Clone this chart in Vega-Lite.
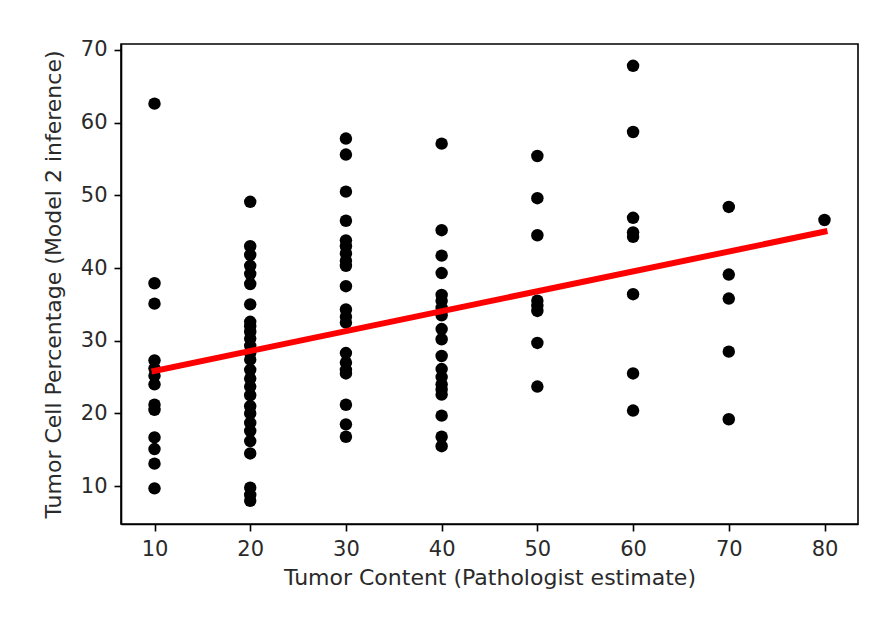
{
  "$schema": "https://vega.github.io/schema/vega-lite/v6.json",
  "autosize": "none",
  "width": 737,
  "height": 480,
  "padding": {"left": 121, "top": 44, "right": 36, "bottom": 103},
  "background": "white",
  "config": {
    "font": "DejaVu Sans",
    "view": {"stroke": "black", "strokeWidth": 1.6},
    "axis": {
      "grid": false,
      "domainColor": "black",
      "domainWidth": 1.6,
      "tickColor": "black",
      "tickWidth": 1.6,
      "tickSize": 7,
      "labelPadding": 7,
      "labelFont": "DejaVu Sans",
      "labelFontSize": 21,
      "labelColor": "#2a2a2a",
      "titleFont": "DejaVu Sans",
      "titleFontSize": 22,
      "titleFontWeight": "normal",
      "titleColor": "#2a2a2a"
    }
  },
  "datasets": {
    "pts": [
      {"tc": 10, "pct": 62.6}, {"tc": 10, "pct": 37.9}, {"tc": 10, "pct": 35.1}, {"tc": 10, "pct": 27.3}, {"tc": 10, "pct": 26.2}, {"tc": 10, "pct": 25.2}, {"tc": 10, "pct": 24.0}, {"tc": 10, "pct": 21.2}, {"tc": 10, "pct": 20.5}, {"tc": 10, "pct": 16.7}, {"tc": 10, "pct": 15.1}, {"tc": 10, "pct": 13.1}, {"tc": 10, "pct": 9.7},
      {"tc": 20, "pct": 49.1}, {"tc": 20, "pct": 43.0}, {"tc": 20, "pct": 41.8}, {"tc": 20, "pct": 40.3}, {"tc": 20, "pct": 39.2}, {"tc": 20, "pct": 37.8}, {"tc": 20, "pct": 35.0}, {"tc": 20, "pct": 32.6}, {"tc": 20, "pct": 32.0}, {"tc": 20, "pct": 31.2}, {"tc": 20, "pct": 30.3}, {"tc": 20, "pct": 29.3}, {"tc": 20, "pct": 28.3}, {"tc": 20, "pct": 27.4}, {"tc": 20, "pct": 26.0}, {"tc": 20, "pct": 24.8}, {"tc": 20, "pct": 23.7}, {"tc": 20, "pct": 22.5}, {"tc": 20, "pct": 21.0}, {"tc": 20, "pct": 20.0}, {"tc": 20, "pct": 18.7}, {"tc": 20, "pct": 17.6}, {"tc": 20, "pct": 16.2}, {"tc": 20, "pct": 14.5}, {"tc": 20, "pct": 9.8}, {"tc": 20, "pct": 8.8}, {"tc": 20, "pct": 8.0},
      {"tc": 30, "pct": 57.8}, {"tc": 30, "pct": 55.6}, {"tc": 30, "pct": 50.5}, {"tc": 30, "pct": 46.5}, {"tc": 30, "pct": 43.8}, {"tc": 30, "pct": 43.0}, {"tc": 30, "pct": 42.0}, {"tc": 30, "pct": 41.0}, {"tc": 30, "pct": 40.3}, {"tc": 30, "pct": 37.5}, {"tc": 30, "pct": 34.3}, {"tc": 30, "pct": 33.3}, {"tc": 30, "pct": 32.5}, {"tc": 30, "pct": 28.3}, {"tc": 30, "pct": 27.0}, {"tc": 30, "pct": 26.0}, {"tc": 30, "pct": 25.5}, {"tc": 30, "pct": 21.2}, {"tc": 30, "pct": 18.5}, {"tc": 30, "pct": 16.8},
      {"tc": 40, "pct": 57.1}, {"tc": 40, "pct": 45.2}, {"tc": 40, "pct": 41.7}, {"tc": 40, "pct": 39.3}, {"tc": 40, "pct": 36.3}, {"tc": 40, "pct": 35.5}, {"tc": 40, "pct": 34.5}, {"tc": 40, "pct": 33.5}, {"tc": 40, "pct": 31.6}, {"tc": 40, "pct": 30.2}, {"tc": 40, "pct": 27.9}, {"tc": 40, "pct": 26.1}, {"tc": 40, "pct": 25.0}, {"tc": 40, "pct": 24.0}, {"tc": 40, "pct": 23.3}, {"tc": 40, "pct": 22.6}, {"tc": 40, "pct": 19.7}, {"tc": 40, "pct": 16.8}, {"tc": 40, "pct": 15.5},
      {"tc": 50, "pct": 55.4}, {"tc": 50, "pct": 49.6}, {"tc": 50, "pct": 44.5}, {"tc": 50, "pct": 35.5}, {"tc": 50, "pct": 34.8}, {"tc": 50, "pct": 34.1}, {"tc": 50, "pct": 29.7}, {"tc": 50, "pct": 23.7},
      {"tc": 60, "pct": 67.8}, {"tc": 60, "pct": 58.7}, {"tc": 60, "pct": 46.9}, {"tc": 60, "pct": 44.9}, {"tc": 60, "pct": 44.3}, {"tc": 60, "pct": 36.4}, {"tc": 60, "pct": 25.5}, {"tc": 60, "pct": 20.4},
      {"tc": 70, "pct": 48.4}, {"tc": 70, "pct": 39.1}, {"tc": 70, "pct": 35.8}, {"tc": 70, "pct": 28.5}, {"tc": 70, "pct": 19.2},
      {"tc": 80, "pct": 46.6}
    ],
    "fit": [
      {"tc": 10, "pct": 25.85},
      {"tc": 80, "pct": 45.0}
    ]
  },
  "encoding": {
    "x": {
      "field": "tc", "type": "quantitative",
      "scale": {"domain": [6.5, 83.5], "nice": false, "zero": false},
      "axis": {"values": [10, 20, 30, 40, 50, 60, 70, 80], "title": "Tumor Content (Pathologist estimate)", "titlePadding": 8}
    },
    "y": {
      "field": "pct", "type": "quantitative",
      "scale": {"domain": [4.8, 70.8], "nice": false, "zero": false},
      "axis": {"values": [10, 20, 30, 40, 50, 60, 70], "title": "Tumor Cell Percentage (Model 2 inference)", "titlePadding": 15}
    }
  },
  "layer": [
    {
      "data": {"name": "pts"},
      "mark": {"type": "circle", "size": 155, "color": "black", "opacity": 1}
    },
    {
      "data": {"name": "fit"},
      "mark": {"type": "line", "color": "#ff0000", "strokeWidth": 6, "strokeCap": "square"}
    }
  ]
}
